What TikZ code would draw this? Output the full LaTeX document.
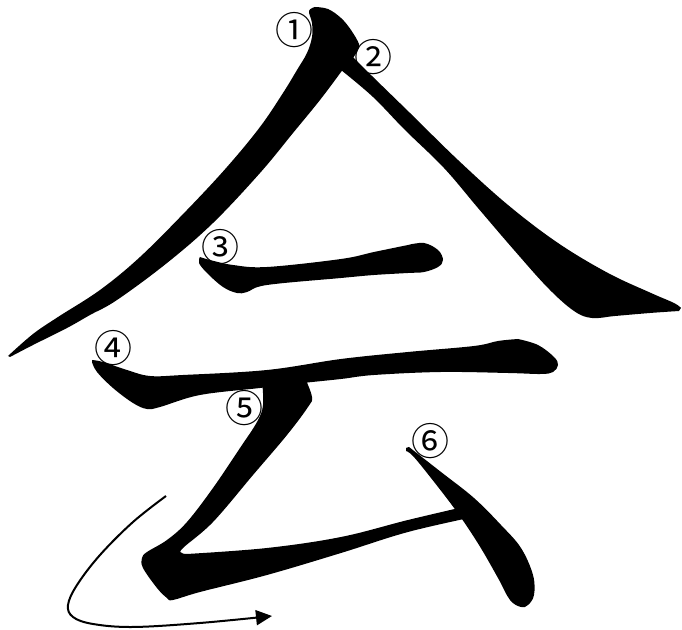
\documentclass[tikz,border=0pt]{standalone}
\usepackage{fontspec}
\newfontfamily\circfont{Noto Sans CJK JP}
\usetikzlibrary{arrows.meta}

\begin{document}
\begin{tikzpicture}[x=0.5pt, y=-0.5pt,
    ink/.style={fill=black},
    stepnum/.style={font=\circfont\fontsize{19}{19}\selectfont, inner sep=0pt}]
\useasboundingbox (0,0) rectangle (682,630);

% Stroke 1: left-falling sweep
\fill[ink] plot[smooth, tension=0.6] coordinates {(315,7) (309,11) (312,23) (312,37) (307,53) (297,70) (283,93) (260,127) (227,167) (187,210) (140,257) (100,290) (58,317) (33,334) (8,356)}
  -- plot[smooth, tension=0.6] coordinates {(10,357) (33,345) (67,328) (90,315) (117,300) (167,263) (213,223) (260,173) (293,133) (320,100) (341,72)}
  -- plot[smooth, tension=0.6] coordinates {(353,58) (358,50) (359,44) (351,30) (341,18) (328,9) (315,7)} -- cycle;

% Stroke 2: right-falling sweep
\fill[ink] plot[smooth, tension=0.6] coordinates {(353,57) (372,76) (410,113) (458,160) (508,205) (558,243) (608,273) (651,293) (674,303) (681,308)}
  -- plot[smooth, tension=0.6] coordinates {(679,311) (650,313) (615,316) (592,318) (574,311) (548,288) (514,250) (478,208) (444,168) (405,130) (373,97) (341,70)} -- cycle;

% Stroke 3: short horizontal
\fill[ink] plot[smooth, tension=0.6] coordinates {(200,257) (210,260) (233,265) (267,267) (341,259) (374,252) (408,245)}
  -- plot[smooth, tension=0.6] coordinates {(408,245) (424,243) (438,250) (443,260) (438,267) (424,272) (408,273) (374,275) (341,278) (267,285) (247,292) (237,293) (223,287) (207,273) (199,263) (200,257)} -- cycle;

% Stroke 4: long horizontal
\fill[ink] plot[smooth, tension=0.6] coordinates {(92,360) (103,362) (127,370) (150,376) (183,375) (267,370) (341,359) (408,352) (474,346) (498,341) (518,339)}
  -- plot[smooth, tension=0.6] coordinates {(518,339) (538,345) (554,357) (558,365) (553,372) (541,374) (508,373) (441,372) (374,375) (341,379) (303,383) (260,388) (200,395) (160,407) (147,409) (133,403) (113,388) (97,372) (92,362)} -- cycle;

% Stroke 5: bent stroke
\fill[ink] (262,380) -- (305,378)
  -- plot[smooth, tension=0.6] coordinates {(305,378) (312,397) (308,407) (287,435) (253,475) (213,522) (183,548) (182,553) (187,554)}
  -- plot[smooth, tension=0.6] coordinates {(187,554) (267,548) (341,537) (408,520) (472,505)}
  -- (478,516)
  -- plot[smooth, tension=0.6] coordinates {(478,516) (408,532) (341,553) (267,575) (200,592) (173,600) (167,598) (157,588) (143,568) (142,558) (147,552) (167,540) (187,522) (213,488) (240,448) (257,422) (263,405) (262,380)} -- cycle;

% Stroke 6: dot
\fill[ink] (406,448) -- (409,447)
  -- plot[smooth, tension=0.6] coordinates {(409,447) (441,472) (474,498) (501,525) (521,548) (533,575) (534,595) (528,605) (521,607) (510,600) (498,578) (479,545) (457,512) (431,478) (413,456) (406,451)} -- cycle;

% Numbers
\node[stepnum] (num1) at (295,30) {①};
\node[stepnum] (num2) at (373,57) {②};
\node[stepnum] (num3) at (220,247) {③};
\node[stepnum] (num4) at (113,348) {④};
\node[stepnum] (num5) at (245,408) {⑤};
\node[stepnum] (num6) at (430,441) {⑥};

% Sweep arrow
\coordinate (sweepStart) at (166,496);
\coordinate (sweepEnd) at (272,616);
\draw[line width=1pt, -{Triangle[length=8pt, width=7.5pt]}] plot[smooth, tension=0.6] coordinates {(sweepStart) (133,522) (100,555) (77,585) (68,605) (73,617) (93,624) (133,627) (200,623) (sweepEnd)};

\end{tikzpicture}
\end{document}
